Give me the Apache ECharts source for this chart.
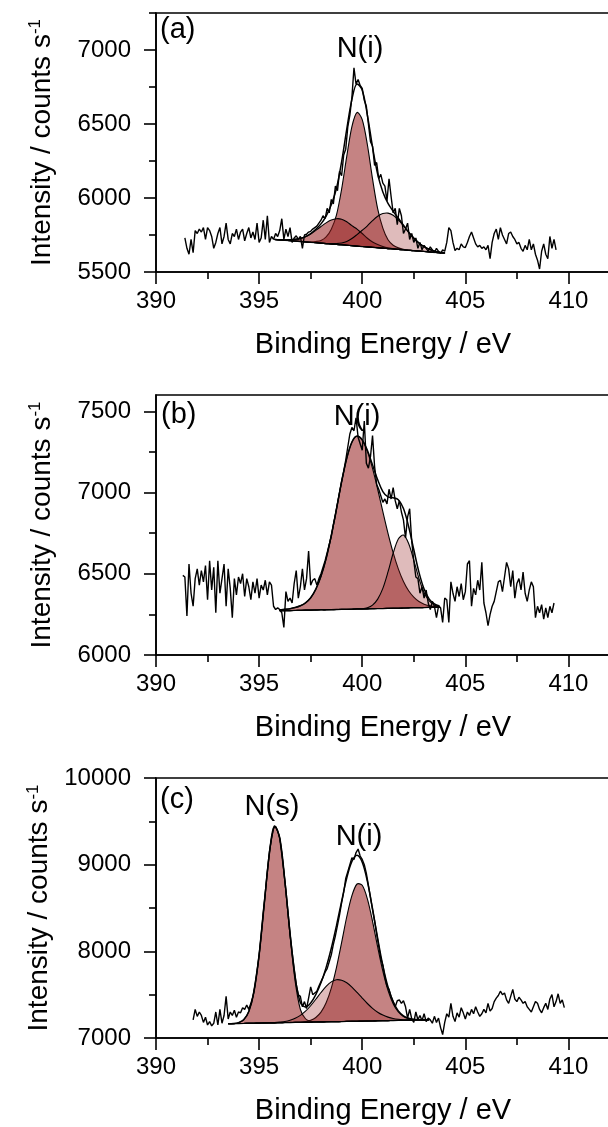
<!DOCTYPE html>
<html>
<head>
<meta charset="utf-8">
<script src="https://cdn.jsdelivr.net/npm/echarts@6/dist/echarts.min.js"></script>
<style>
  html, body { margin: 0; padding: 0; background: #fff; }
  #chart { width: 608px; height: 1127px; }
</style>
</head>
<body>
<div id="chart"></div>
<script>
// ---- data ----
const RAW_STEP = 0.1;   // eV between raw points
const FIT_STEP = 0.25;  // eV between fitted-curve points

const xTicks = [390, 395, 400, 405, 410];
const xMinorTicks = [392.5, 397.5, 402.5, 407.5];

const yTicksA = [5500, 6000, 6500, 7000];
const yMinorA = [5750, 6250, 6750, 7250];
const yTicksB = [6000, 6500, 7000, 7500];
const yMinorB = [6250, 6750, 7250];
const yTicksC = [7000, 8000, 9000, 10000];
const yMinorC = [7500, 8500, 9500];

// panel (a)
const rawStartA = 391.4;
const rawA = [
  5730, 5660, 5620, 5720, 5630, 5780, 5760, 5790, 5770, 5800,
  5720, 5800, 5780, 5740, 5660, 5700, 5760, 5800, 5690, 5740,
  5830, 5720, 5690, 5760, 5740, 5790, 5720, 5770, 5790, 5710,
  5760, 5800, 5730, 5770, 5720, 5830, 5700, 5730, 5850, 5720,
  5880, 5700, 5740, 5720, 5760,
  5740, 5780, 5860, 5720, 5790, 5740, 5800, 5700, 5730, 5745,
  5720, 5740, 5660, 5750, 5755, 5770, 5775, 5790, 5800, 5810,
  5830, 5850, 5880, 5860, 5930, 5900, 5990, 5960, 6080, 6050,
  6180, 6150, 6290, 6330, 6480, 6560, 6680, 6880, 6770, 6800,
  6760, 6740, 6660, 6620, 6500, 6380, 6350, 6220, 6240, 6130,
  6160, 6100, 6080, 5980, 6130, 6010, 5900, 5930, 5820, 5930,
  5880, 5760, 5790, 5830, 5720, 5760, 5700, 5730, 5660, 5700,
  5650, 5680, 5660, 5640, 5670, 5650, 5630, 5660, 5640, 5625,
  5650, 5640,
  5700, 5800, 5780, 5700, 5645, 5660, 5650, 5690, 5670, 5665,
  5700, 5740, 5770, 5730, 5690, 5670, 5680, 5660, 5670, 5650,
  5680, 5590, 5700, 5760, 5790, 5720, 5800, 5750, 5720, 5690,
  5760, 5770, 5740, 5720, 5690, 5700, 5660, 5640, 5680, 5650,
  5720, 5650, 5690, 5620, 5580, 5520, 5640, 5690, 5620, 5590,
  5740, 5660, 5720, 5650
];
const fitStartA = 395.75;
const bgA = [5720, 5717, 5714, 5712, 5709, 5706, 5703, 5700, 5698, 5695, 5692, 5689, 5686, 5684, 5681, 5678, 5675,
  5672, 5670, 5667, 5664, 5661, 5658, 5656, 5653, 5650, 5647, 5644, 5642, 5639, 5636, 5633, 5630, 5628];
const peakA1 = [0, 0, 0, 0, 0, 0, 0, 3, 8, 18, 45, 100, 198, 375, 600, 805, 903,
  858, 690, 462, 262, 135, 60, 25, 10, 4, 0, 0, 0, 0, 0, 0, 0, 0];
const peakA2 = [0, 1, 3, 6, 12, 21, 36, 57, 83, 112, 140, 162, 174, 173, 159, 135, 115,
  88, 58, 36, 21, 11, 5, 2, 1, 0, 0, 0, 0, 0, 0, 0, 0, 0];
const peakA3 = [0, 0, 0, 0, 0, 0, 0, 0, 0, 0, 1, 3, 6, 12, 25, 48, 78,
  110, 142, 180, 213, 234, 240, 227, 199, 162, 122, 85, 54, 32, 18, 9, 4, 2];
const envA = [5720, 5718, 5717, 5718, 5721, 5727, 5739, 5760, 5789, 5825, 5878, 5954, 6064, 6244, 6465, 6666, 6771,
  6728, 6560, 6345, 6160, 6041, 5963, 5910, 5863, 5816, 5769, 5729, 5696, 5671, 5654, 5642, 5634, 5630];

// panel (b)
const rawStartB = 391.3;
const rawB = [
  6490, 6480, 6240, 6560, 6380, 6300, 6470, 6530, 6430, 6520,
  6450, 6550, 6340, 6580, 6400, 6540, 6260, 6580, 6380, 6470,
  6560, 6300, 6530, 6410, 6230, 6470, 6370, 6480, 6440, 6500,
  6360, 6470, 6420, 6340, 6450, 6380, 6470, 6350, 6430, 6400,
  6460, 6370, 6450, 6430, 6300, 6280, 6290,
  6280, 6260, 6170, 6390, 6330, 6350, 6320, 6440, 6520, 6350,
  6420, 6530, 6400, 6470, 6640, 6430, 6460, 6470, 6430, 6470,
  6500, 6540, 6580, 6630, 6680, 6730, 6800, 6860, 6930, 7000,
  7070, 7130, 7200, 7280, 7360, 7400, 7380, 7460, 7340, 7300,
  7260, 7440, 7180, 7150, 7220, 7350, 7160, 7050, 7020, 6980,
  6940, 6960, 6930, 7020, 6960, 7030, 6950, 6900, 6950, 6880,
  6830, 6720, 6850, 6900, 6700, 6580, 6480, 6470, 6380, 6420,
  6350, 6400, 6320, 6280, 6330, 6300, 6230, 6300, 6290, 6200,
  6350,
  6340, 6200, 6450, 6380, 6330, 6420, 6360, 6440, 6340, 6390,
  6560, 6580, 6300, 6410, 6370, 6460, 6400, 6570, 6320, 6260,
  6180, 6250, 6300, 6330, 6390, 6450, 6460, 6390, 6480, 6570,
  6530, 6420, 6520, 6350, 6440, 6470, 6400, 6510, 6380, 6330,
  6400, 6450, 6420, 6230, 6300, 6260, 6310, 6220, 6290, 6230,
  6300, 6260, 6320
];
const fitStartB = 396.0;
const bgB = [6272, 6273, 6273, 6274, 6275, 6276, 6276, 6277, 6278, 6278, 6279, 6280, 6281, 6281, 6282, 6283,
  6283, 6284, 6285, 6286, 6286, 6287, 6288, 6288, 6289, 6290, 6291, 6291, 6292, 6293, 6293, 6294];
const peakB1 = [5, 8, 12, 18, 28, 45, 76, 128, 206, 315, 457, 619, 784, 929, 1028, 1063,
  1039, 969, 863, 734, 596, 462, 342, 242, 163, 105, 65, 38, 21, 11, 6, 3];
const peakB2 = [0, 0, 0, 0, 0, 0, 0, 0, 0, 0, 0, 0, 0, 0, 0, 1,
  2, 7, 22, 58, 124, 224, 338, 426, 449, 396, 293, 181, 93, 40, 15, 4];
const envB = [6277, 6281, 6285, 6292, 6303, 6321, 6352, 6405, 6484, 6593, 6736, 6899, 7065, 7210, 7310, 7347,
  7324, 7260, 7170, 7078, 7006, 6973, 6968, 6956, 6901, 6791, 6649, 6510, 6406, 6344, 6314, 6301];

// panel (c)
const rawStartC = 391.8;
const rawC = [
  7210, 7330, 7250, 7300, 7260, 7180, 7240, 7150, 7190, 7140, 7170, 7300, 7150, 7330, 7170, 7260, 7480,
  7220, 7300, 7260, 7320, 7240, 7300, 7290, 7350, 7330, 7380,
  7330, 7400, 7480, 7620, 7780, 7960, 8200, 8450, 8680, 8920,
  9150, 9300, 9420, 9440, 9390, 9300, 9120, 8920, 8700, 8450,
  8200, 7990, 7800, 7620, 7500, 7480, 7360, 7420, 7340, 7460,
  7590, 7500, 7520, 7540, 7600, 7650, 7700, 7760, 7800, 7880,
  7960, 8080, 8180, 8300, 8420, 8560, 8680, 8840, 8920, 9000,
  9080, 9060, 9140, 9180, 9100, 9060, 9000, 8900, 8760, 8620,
  8480, 8350, 8200, 8060, 7920, 7840, 7700, 7600, 7560, 7480,
  7420, 7360, 7430, 7440, 7400, 7430, 7360, 7230, 7330, 7220,
  7180, 7300, 7210, 7260, 7200, 7280, 7190, 7230, 7210, 7170,
  7250, 7180, 7230, 7120, 7040, 7180,
  7280, 7240, 7400, 7250, 7190, 7290, 7240, 7350, 7290, 7220,
  7300, 7260, 7330, 7280, 7360, 7300, 7250, 7280, 7330, 7290,
  7400, 7310, 7340, 7420, 7460, 7490, 7540, 7500, 7520, 7440,
  7400, 7480, 7560, 7450, 7420, 7470, 7440, 7400, 7420, 7360,
  7330, 7300, 7360, 7420, 7400, 7330, 7290, 7350, 7400, 7330,
  7450, 7500, 7360, 7420, 7510, 7400, 7440, 7350
];
const fitStartC = 393.5;
const bgC = [7165, 7166, 7167, 7168, 7170, 7171, 7172, 7173, 7174, 7175, 7177, 7178, 7179, 7180, 7181, 7182,
  7183, 7185, 7186, 7187, 7188, 7189, 7190, 7192, 7193, 7194, 7195, 7196, 7197, 7199, 7200, 7201,
  7202, 7203, 7204, 7206, 7207, 7208, 7209, 7210];
const peakC1 = [0, 1, 10, 42, 136, 362, 783, 1374, 1958, 2266, 2128, 1623, 1005, 470, 150, 40,
  10, 2, 0, 0, 0, 0, 0, 0, 0, 0, 0, 0, 0, 0, 0, 0, 0, 0, 0, 0, 0, 0, 0, 0];
const peakC2 = [0, 0, 0, 0, 0, 0, 0, 0, 0, 0, 0, 0, 0, 0, 0, 8,
  22, 52, 112, 219, 388, 624, 911, 1207, 1450, 1583, 1567, 1409, 1150, 851, 572, 349,
  193, 97, 45, 18, 7, 2, 0, 0];
const peakC3 = [0, 0, 0, 0, 0, 0, 0, 1, 2, 4, 7, 13, 26, 47, 80, 127,
  189, 262, 339, 409, 460, 483, 476, 445, 395, 332, 266, 202, 145, 99, 64, 40,
  23, 13, 7, 3, 2, 1, 0, 0];
const envC = [7165, 7167, 7177, 7210, 7306, 7533, 7955, 8548, 9134, 9445, 9312, 8814, 8210, 7697, 7411, 7357,
  7404, 7501, 7637, 7815, 8036, 8296, 8577, 8844, 9038, 9109, 9028, 8807, 8492, 8149, 7836, 7590,
  7418, 7313, 7256, 7227, 7216, 7211, 7209, 7210];

// ---- styling ----
const FONT = '"Liberation Sans", Arial, sans-serif';
const MID = 'rgba(150,30,30,0.55)';
const LIGHT = 'rgba(150,30,30,0.30)';

const panels = [
  { top: 13, height: 259, ymin: 5500, ymax: 7250, yTicks: yTicksA, yMinor: yMinorA,
    rawStart: rawStartA, raw: rawA, fitStart: fitStartA, bg: bgA,
    comps: [[peakA1, MID], [peakA2, MID], [peakA3, LIGHT]], env: envA },
  { top: 395, height: 260, ymin: 6000, ymax: 7600, yTicks: yTicksB, yMinor: yMinorB,
    rawStart: rawStartB, raw: rawB, fitStart: fitStartB, bg: bgB,
    comps: [[peakB1, MID], [peakB2, LIGHT]], env: envB },
  { top: 778, height: 260, ymin: 7000, ymax: 10000, yTicks: yTicksC, yMinor: yMinorC,
    rawStart: rawStartC, raw: rawC, fitStart: fitStartC, bg: bgC,
    comps: [[peakC1, MID], [peakC2, MID], [peakC3, LIGHT]], env: envC }
];

function pairs(start, step, vals) {
  return vals.map((v, i) => [+(start + i * step).toFixed(2), v]);
}

// filled component: area between the background line and background + peak height
function fillSeries(ax, start, bg, vals, fill) {
  const xs = bg.map((_, j) => +(start + j * FIT_STEP).toFixed(2));
  return {
    type: 'custom', ...ax, silent: true, z: 2, clip: true,
    data: [[xs[0], bg[0]]],
    renderItem: (params, api) => {
      const upper = vals.map((h, j) => api.coord([xs[j], bg[j] + h]));
      const lower = bg.map((b, j) => api.coord([xs[j], b])).reverse();
      return {
        type: 'polygon',
        shape: { points: upper.concat(lower), smooth: 0.3 },
        style: { fill, stroke: '#000', lineWidth: 1.1 }
      };
    }
  };
}

const black = { color: '#000', width: 1.6 };
const grids = [], xAxes = [], yAxes = [], series = [];

panels.forEach((p, i) => {
  // the frame runs past the right edge of the page, as in the cropped original
  grids.push({ left: 156, top: p.top, width: 464, height: p.height, outerBoundsMode: 'none',
    containLabel: false, show: true, borderColor: '#000', borderWidth: 1.6, backgroundColor: 'transparent' });

  xAxes.push({
    type: 'value', gridIndex: i, min: 390, max: 412.5, interval: 5,
    name: 'Binding Energy / eV', nameLocation: 'middle', nameGap: 58,
    nameTextStyle: { fontFamily: FONT, fontSize: 29, color: '#000', padding: [0, 10, 0, 0] },
    axisLine: { onZero: false, lineStyle: black },
    axisTick: { length: 12, customValues: xTicks, lineStyle: black },
    axisLabel: { customValues: xTicks, fontFamily: FONT, fontSize: 24, color: '#000', margin: 17,
      formatter: v => String(v) },
    splitLine: { show: false }
  });
  xAxes.push({
    type: 'value', gridIndex: i, min: 390, max: 412.5, interval: 2.5, position: 'bottom',
    axisLine: { show: false },
    axisTick: { length: 7, customValues: xMinorTicks, lineStyle: black },
    axisLabel: { show: false }, splitLine: { show: false }
  });

  yAxes.push({
    type: 'value', gridIndex: i, min: p.ymin, max: p.ymax, interval: 500,
    name: '{m|Intensity / counts s}{s|-1}', nameLocation: 'middle', nameGap: 99,
    nameTextStyle: { fontFamily: FONT, fontSize: 28, color: '#000',
      rich: {
        m: { fontFamily: FONT, fontSize: 28, color: '#000', lineHeight: 30 },
        s: { fontFamily: FONT, fontSize: 17, color: '#000', lineHeight: 16, verticalAlign: 'top' }
      } },
    axisLine: { onZero: false, lineStyle: black },
    axisTick: { length: 12, customValues: p.yTicks, lineStyle: black },
    axisLabel: { customValues: p.yTicks, fontFamily: FONT, fontSize: 24, color: '#000', margin: 25,
      formatter: v => String(v) },
    splitLine: { show: false }
  });
  yAxes.push({
    type: 'value', gridIndex: i, min: p.ymin, max: p.ymax, interval: 250, position: 'left',
    axisLine: { show: false },
    axisTick: { length: 7, customValues: p.yMinor, lineStyle: black },
    axisLabel: { show: false }, splitLine: { show: false }
  });

  const ax = { xAxisIndex: 2 * i, yAxisIndex: 2 * i };

  p.comps.forEach(([vals, fill]) => {
    series.push(fillSeries(ax, p.fitStart, p.bg, vals, fill));
  });

  // background line
  series.push({ type: 'line', ...ax, data: pairs(p.fitStart, FIT_STEP, p.bg), symbol: 'none', silent: true,
    lineStyle: { color: '#000', width: 1.3 }, z: 3 });
  // envelope
  series.push({ type: 'line', ...ax, data: pairs(p.fitStart, FIT_STEP, p.env), symbol: 'none',
    smooth: 0.35, silent: true, lineStyle: { color: '#000', width: 1.5 }, z: 4 });
  // measured spectrum
  series.push({ type: 'line', ...ax, data: pairs(p.rawStart, RAW_STEP, p.raw), symbol: 'none',
    silent: true, lineStyle: { color: '#000', width: 1.4 }, z: 5 });
});

function label(text, x, y, align) {
  return { type: 'text', x, y, silent: true, z: 10,
    style: { text, fontFamily: FONT, fontSize: 29, fill: '#000', align: align || 'left', verticalAlign: 'top' } };
}

const chart = echarts.init(document.getElementById('chart'), null, { renderer: 'canvas' });
chart.setOption({
  animation: false,
  backgroundColor: '#fff',
  grid: grids,
  xAxis: xAxes,
  yAxis: yAxes,
  series,
  graphic: [
    label('(a)', 160, 15), label('N(i)', 360, 34, 'center'),
    label('(b)', 161, 400), label('N(i)', 357, 402, 'center'),
    label('(c)', 160, 785), label('N(s)', 272, 792, 'center'), label('N(i)', 359, 822, 'center')
  ]
});
</script>
</body>
</html>
